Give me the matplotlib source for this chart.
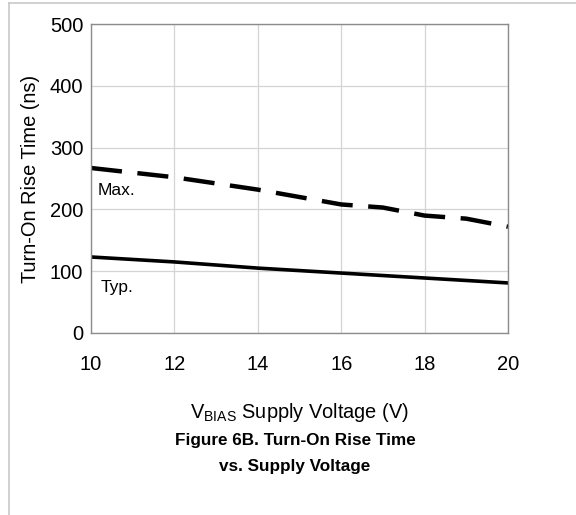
import numpy as np
import matplotlib.pyplot as plt
from matplotlib.lines import Line2D

plt.rcParams['font.family'] = ['Liberation Sans', 'DejaVu Sans']

# data
vbias = [10, 12, 14, 15, 16, 17, 18, 19, 20]
rise_max = [267, 252, 232, 220, 208, 203, 190, 185, 172]
vbias_typ = [10, 12, 14, 16, 18, 20]
rise_typ = [123, 115, 105, 97, 89, 81]

x_ticks = [10, 12, 14, 16, 18, 20]
y_ticks = [0, 100, 200, 300, 400, 500]

fig = plt.figure(figsize=(5.76, 5.15), dpi=100)
ax = fig.add_axes([91 / 576, 1 - 333 / 515, 417 / 576, 309 / 515])

ax.plot(vbias, rise_max, color='black', lw=3.2, dashes=(7, 3.5), solid_capstyle='butt')
ax.plot(vbias_typ, rise_typ, color='black', lw=2.6)

ax.set_xlim(10, 20)
ax.set_ylim(0, 500)
ax.set_xticks(x_ticks)
ax.set_yticks(y_ticks)
ax.grid(True, color='#d4d4d4', lw=0.9)
ax.set_axisbelow(True)
for s in ax.spines.values():
    s.set_color('#8c8c8c')
    s.set_linewidth(1.0)
ax.tick_params(length=0, labelsize=14.5)
ax.tick_params(axis='y', pad=5.5)
ax.tick_params(axis='x', pad=15.5)

ax.text(10.15, 231, 'Max.', fontsize=12.5, va='center', ha='left')
ax.text(10.22, 73, 'Typ.', fontsize=12.5, va='center', ha='left')

ax.set_ylabel('Turn-On Rise Time (ns)', fontsize=14.4, va='center')
ax.yaxis.set_label_coords(-(91 - 31) / 417, 0.5)
ax.set_xlabel(r'V$_{\mathregular{BIAS}}$ Supply Voltage (V)', fontsize=14.4)
ax.xaxis.set_label_coords(0.5, -(413 - 333) / 309)
ax.xaxis.label.set_va('center')

fig.text(295 / 576, 1 - 441 / 515, 'Figure 6B. Turn-On Rise Time',
         ha='center', va='center', fontsize=12.3, fontweight='bold')
fig.text(295 / 576, 1 - 466 / 515, 'vs. Supply Voltage',
         ha='center', va='center', fontsize=12.3, fontweight='bold')

# light frame on the left and top of the figure
fig.add_artist(Line2D([9 / 576, 9 / 576], [0, 1 - 3 / 515], transform=fig.transFigure,
                      color='#c8c8c8', lw=1.2))
fig.add_artist(Line2D([9 / 576, 1], [1 - 3 / 515, 1 - 3 / 515], transform=fig.transFigure,
                      color='#c8c8c8', lw=1.2))

fig.savefig('out.png', dpi=100)
